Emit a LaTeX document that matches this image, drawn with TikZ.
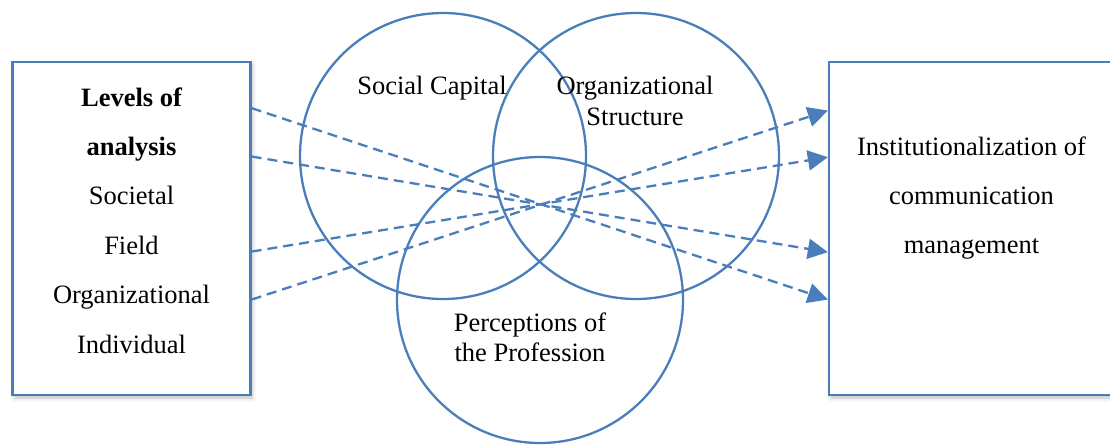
\documentclass[tikz,border=0pt]{standalone}
\usepackage{fontspec}
\setmainfont{Liberation Serif}
\usetikzlibrary{arrows.meta,shadows.blur}
\definecolor{wblue}{RGB}{74,126,187}
\begin{document}
\begin{tikzpicture}[x=1pt,y=-1pt,
  frame/.style={draw=wblue,line width=2.3pt,fill=white,inner sep=0,rectangle,
    blur shadow={shadow xshift=2pt,shadow yshift=-3pt,shadow opacity=25,shadow blur radius=4pt}},
  ring/.style={draw=wblue,line width=2.3pt,circle,inner sep=0,minimum size=286pt},
  lbl/.style={font=\fontsize{26.5}{31}\selectfont,anchor=base,inner sep=0},
  blbl/.style={font=\fontsize{26.5}{31}\selectfont\bfseries,anchor=base,inner sep=0},
  link/.style={draw=wblue,line width=2.3pt,dash pattern=on 10pt off 6pt,
    -{Triangle[length=20pt,width=20pt]}}]
\useasboundingbox (0,0) rectangle (1110,445);
\clip (0,0) rectangle (1110,445);

% boxes
\node[frame,minimum width=238pt,minimum height=333pt] (lb) at (131.5,228.5) {};
\node[frame,minimum width=285pt,minimum height=333pt] (rb) at (971.5,228.5) {};

% circles
\node[ring] (sc) at (443,156) {};
\node[ring] (os) at (636,156) {};
\node[ring] (pp) at (540,300) {};

% left box text
\node[blbl] (t1) at (131.5,106) {Levels of};
\node[blbl] (t2) at (131.5,155.4) {analysis};
\node[lbl] (t3) at (131.5,204.8) {Societal};
\node[lbl] (t4) at (131.5,254.2) {Field};
\node[lbl] (t5) at (131.5,303.6) {Organizational};
\node[lbl] (t6) at (131.5,353) {Individual};

% right box text
\node[lbl] (r1t) at (971.5,155) {Institutionalization of};
\node[lbl] (r2t) at (971.5,204) {communication};
\node[lbl] (r3t) at (971.5,253) {management};

% circle text
\node[lbl] (sct) at (432,94) {Social Capital};
\node[lbl] (ost1) at (635,94) {Organizational};
\node[lbl] (ost2) at (635,125) {Structure};
\node[lbl] (ppt1) at (530,331) {Perceptions of};
\node[lbl] (ppt2) at (530,361.5) {the Profession};

% connector end points
\path (lb.north east) ++(0,47.3) coordinate (l1);
\path (lb.north east) ++(0,95.7) coordinate (l2);
\path (lb.north east) ++(0,190.7) coordinate (l3);
\path (lb.north east) ++(0,238.7) coordinate (l4);
\path (rb.north west) ++(0,49.7) coordinate (q1);
\path (rb.north west) ++(0,96.3) coordinate (q2);
\path (rb.north west) ++(0,191.3) coordinate (q3);
\path (rb.north west) ++(0,238.7) coordinate (q4);

\draw[link] (l1) -- (q4);
\draw[link] (l2) -- (q3);
\draw[link] (l3) -- (q2);
\draw[link] (l4) -- (q1);
\end{tikzpicture}
\end{document}
